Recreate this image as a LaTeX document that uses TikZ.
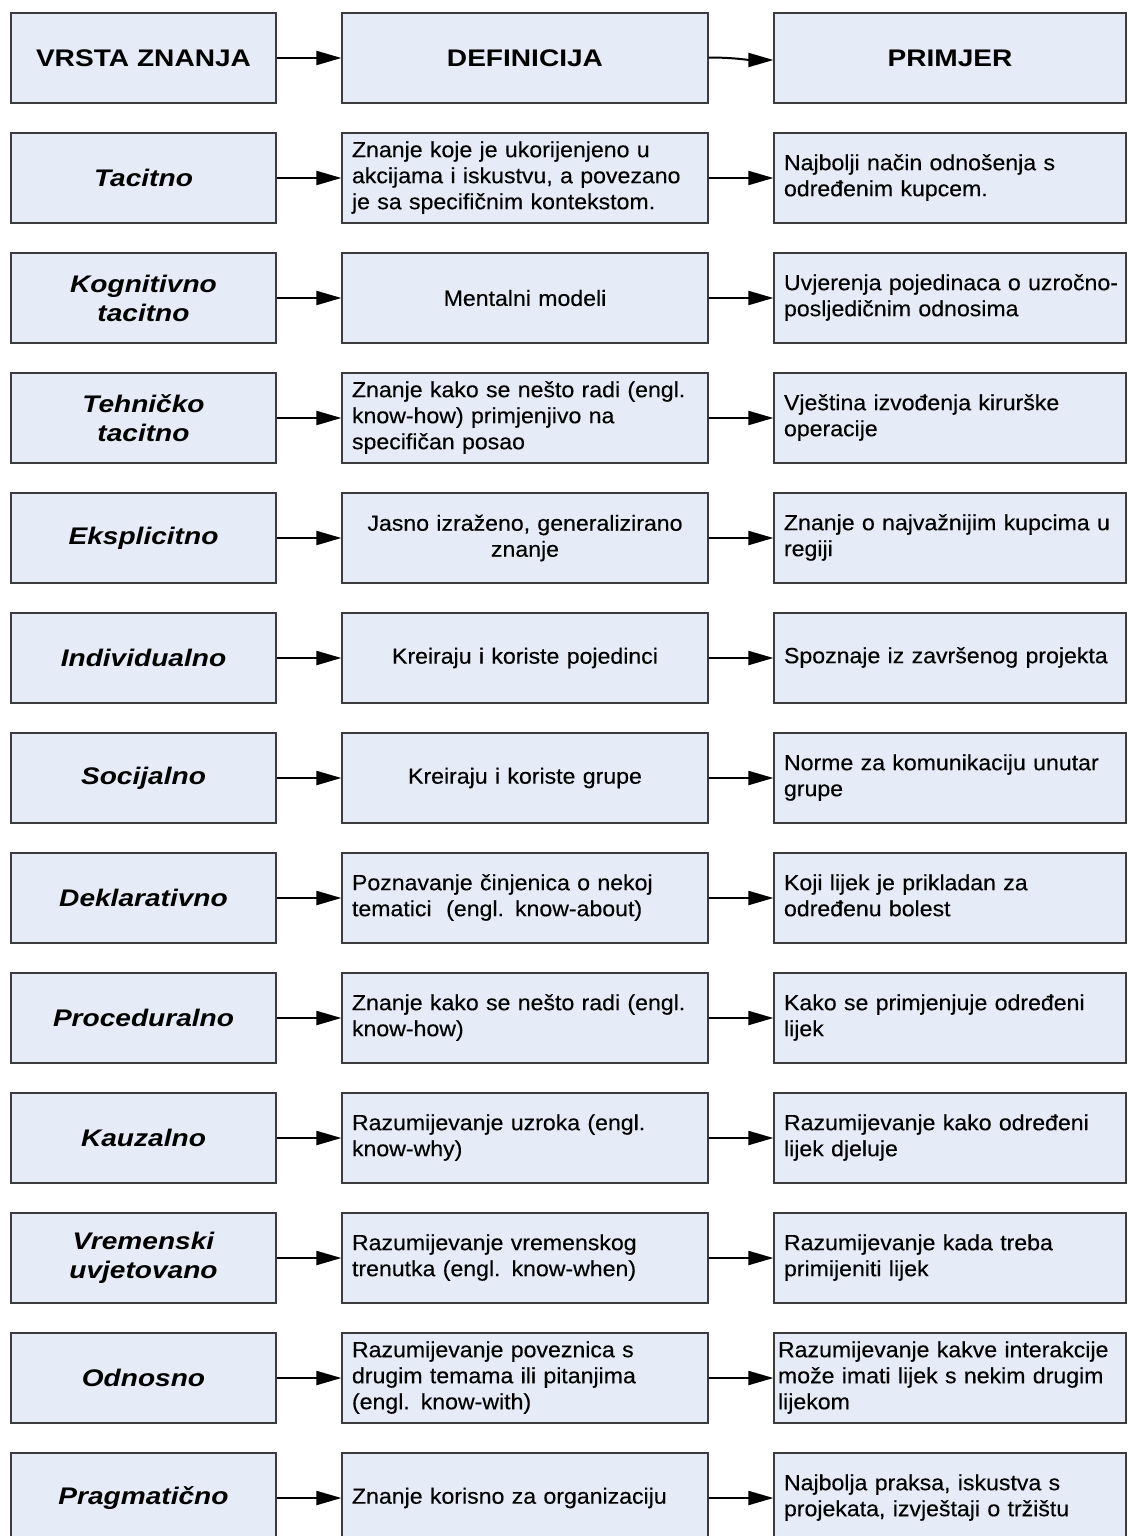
\documentclass[tikz,border=0pt]{standalone}
\usepackage{fontspec}
\setmainfont{Liberation Sans}[FakeStretch=1.05, FakeBold=0.3]
\newfontfamily\titlefont{Liberation Sans}[FakeStretch=1.17]
\usetikzlibrary{arrows.meta}
\definecolor{boxfill}{RGB}{229,236,247}
\definecolor{boxline}{RGB}{60,60,60}
% lines kept exactly as written, never re-broken
\newcommand\txtlines[1]{\begin{tabular}{@{}l@{}}#1\end{tabular}}
\tikzset{
  box/.style={draw=boxline, fill=boxfill, line width=1.2pt, rectangle,
    minimum height=90pt, inner xsep=10pt, inner ysep=0pt,
    font=\fontsize{22}{26}\selectfont},
  kindbox/.style={box, text width=245pt, align=center,
    font=\titlefont\bfseries\itshape\fontsize{24}{29}\selectfont},
  headbox/.style={kindbox, font=\titlefont\bfseries\fontsize{24}{29}\selectfont},
  defbox/.style={box, text width=346pt, align=left},
  defmid/.style={defbox, align=center},
  exbox/.style={box, text width=332pt, align=left},
  arr/.style={line width=2pt, -{Triangle[length=25pt,width=14pt]}},
}
\begin{document}
\begin{tikzpicture}[x=1pt,y=-1pt]
\useasboundingbox (0,0) rectangle (1127,1536);
\clip (0,0) rectangle (1127,1536);

% header row
\node[headbox]                         (k0) at (143.5,58) {VRSTA ZNANJA};
\node[headbox,text width=346pt]        (d0) at (525,58)   {DEFINICIJA};
\node[headbox,text width=332pt]        (p0) at (950,58)   {PRIMJER};

% kinds of knowledge
\node[kindbox] (k1)  at (143.5,178)  {Tacitno};
\node[kindbox] (k2)  at (143.5,298)  {Kognitivno\\tacitno};
\node[kindbox] (k3)  at (143.5,418)  {Tehničko\\tacitno};
\node[kindbox] (k4)  at (143.5,538)  {Eksplicitno};
\node[kindbox] (k5)  at (143.5,658)  {Individualno};
\node[kindbox] (k6)  at (143.5,778)  {Socijalno};
\node[kindbox] (k7)  at (143.5,898)  {Deklarativno};
\node[kindbox] (k8)  at (143.5,1018) {Proceduralno};
\node[kindbox] (k9)  at (143.5,1138) {Kauzalno};
\node[kindbox] (k10) at (143.5,1258) {Vremenski\\uvjetovano};
\node[kindbox] (k11) at (143.5,1378) {Odnosno};
\node[kindbox] (k12) at (143.5,1498) {Pragmatično};

% definitions
\node[defbox] (d1)  at (525,178)  {\txtlines{Znanje koje je ukorijenjeno u\\akcijama i iskustvu, a povezano\\je sa specifičnim kontekstom.}};
\node[defmid] (d2)  at (525,298)  {Mentalni modeli};
\node[defbox] (d3)  at (525,418)  {\txtlines{Znanje kako se nešto radi (engl.\\know-how) primjenjivo na\\specifičan posao}};
\node[defmid] (d4)  at (525,538)  {Jasno izraženo, generalizirano\\znanje};
\node[defmid] (d5)  at (525,658)  {Kreiraju i koriste pojedinci};
\node[defmid] (d6)  at (525,778)  {Kreiraju i koriste grupe};
\node[defbox] (d7)  at (525,898)  {\txtlines{Poznavanje činjenica o nekoj\\tematici~ (engl. know-about)}};
\node[defbox] (d8)  at (525,1018) {\txtlines{Znanje kako se nešto radi (engl.\\know-how)}};
\node[defbox] (d9)  at (525,1138) {\txtlines{Razumijevanje uzroka (engl.\\know-why)}};
\node[defbox] (d10) at (525,1258) {\txtlines{Razumijevanje vremenskog\\trenutka (engl. know-when)}};
\node[defbox] (d11) at (525,1378) {\txtlines{Razumijevanje poveznica s\\drugim temama ili pitanjima\\(engl. know-with)}};
\node[defbox] (d12) at (525,1498) {Znanje korisno za organizaciju};

% examples
\node[exbox] (p1)  at (950,178)  {\txtlines{Najbolji način odnošenja s\\određenim kupcem.}};
\node[exbox] (p2)  at (950,298)  {\txtlines{Uvjerenja pojedinaca o uzročno-\\posljedičnim odnosima}};
\node[exbox] (p3)  at (950,418)  {\txtlines{Vještina izvođenja kirurške\\operacije}};
\node[exbox] (p4)  at (950,538)  {\txtlines{Znanje o najvažnijim kupcima u\\regiji}};
\node[exbox] (p5)  at (950,658)  {\txtlines{Spoznaje iz završenog projekta}};
\node[exbox] (p6)  at (950,778)  {\txtlines{Norme za komunikaciju unutar\\grupe}};
\node[exbox] (p7)  at (950,898)  {\txtlines{Koji lijek je prikladan za\\određenu bolest}};
\node[exbox] (p8)  at (950,1018) {\txtlines{Kako se primjenjuje određeni\\lijek}};
\node[exbox] (p9)  at (950,1138) {\txtlines{Razumijevanje kako određeni\\lijek djeluje}};
\node[exbox] (p10) at (950,1258) {\txtlines{Razumijevanje kada treba\\primijeniti lijek}};
\node[exbox,inner xsep=4pt,text width=344pt] (p11) at (950,1378) {\txtlines{Razumijevanje kakve interakcije\\može imati lijek s nekim drugim\\lijekom}};
\node[exbox] (p12) at (950,1498) {\txtlines{Najbolja praksa, iskustva s\\projekata, izvještaji o tržištu}};

% connectors
\draw[arr] (k0.east) -- (d0.west);
\draw[arr] ([yshift=0.5pt]d0.east) .. controls +(25,0) and +(-25,0) .. ([yshift=-2pt]p0.west);
\foreach \i in {1,...,12}{
  \draw[arr] (k\i.east) -- (d\i.west);
  \draw[arr] (d\i.east) -- (p\i.west);
}
\end{tikzpicture}
\end{document}
